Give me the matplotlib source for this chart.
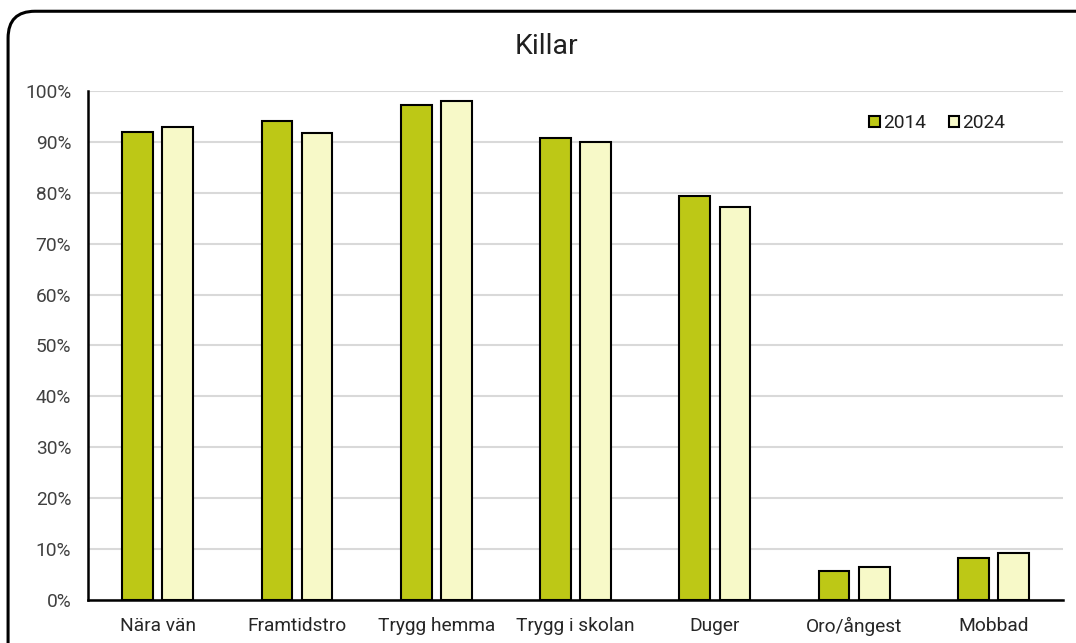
import numpy as np
import matplotlib.pyplot as plt
from matplotlib.patches import FancyBboxPatch
from matplotlib.patches import Patch
from matplotlib.ticker import PercentFormatter

plt.rcParams['font.family'] = ['Roboto', 'DejaVu Sans']

# data
categories = ['Nära vän', 'Framtidstro', 'Trygg hemma', 'Trygg i skolan',
              'Duger', 'Oro/ångest', 'Mobbad']
values_2014 = [92.0, 94.1, 97.2, 90.8, 79.4, 5.6, 8.2]
values_2024 = [92.9, 91.8, 98.0, 90.0, 77.2, 6.5, 9.3]
series_names = ['2014', '2024']
colors = ['#BDC816', '#F7F9C8']

fig = plt.figure(figsize=(10.76, 6.43), dpi=100)
ax = fig.add_axes([0.0818, 0.0669, 0.9062, 0.7916])

# rounded frame around the whole chart (runs off the bottom/right edge)
frame = FancyBboxPatch((0.0075, -0.05), 1.05, 0.9825 + 0.05,
                       boxstyle='round,pad=0,rounding_size=0.025',
                       transform=fig.transFigure, fill=False,
                       edgecolor='black', linewidth=2.2, zorder=0,
                       mutation_aspect=1.67)
fig.patches.append(frame)

x = np.arange(len(categories))
w = 0.22
off = 0.144
ax.bar(x - off, values_2014, w, color=colors[0], edgecolor='black',
       linewidth=1.5, zorder=3)
ax.bar(x + off, values_2024, w, color=colors[1], edgecolor='black',
       linewidth=1.5, zorder=3)

ax.set_xlim(-0.5, len(categories) - 0.5)
ax.set_ylim(0, 100)
ax.set_yticks(np.arange(0, 101, 10))
ax.yaxis.set_major_formatter(PercentFormatter(decimals=0))
ax.set_xticks(x)
ax.set_xticklabels(categories)
ax.tick_params(length=0, labelsize=13.8, colors='#404040', pad=12)
ax.tick_params(axis='x', pad=12, colors='#262626')
ax.grid(axis='y', color='#D9D9D9', linewidth=1.5, zorder=0)
for s in ['top', 'right']:
    ax.spines[s].set_visible(False)
for s in ['left', 'bottom']:
    ax.spines[s].set_linewidth(1.8)
    ax.spines[s].set_zorder(4)

fig.text(0.508, 0.927, 'Killar', ha='center', va='center', fontsize=20.5,
         color='#202020')

handles = [Patch(facecolor=c, edgecolor='black', linewidth=1.5) for c in colors]
ax.legend(handles, series_names, loc='upper right', bbox_to_anchor=(0.958, 0.988),
          ncol=2, frameon=False, fontsize=13.8, handlelength=0.55,
          handleheight=0.55, handletextpad=0.15, columnspacing=1.2,
          labelcolor='#202020')

fig.savefig('out.png', dpi=100)
